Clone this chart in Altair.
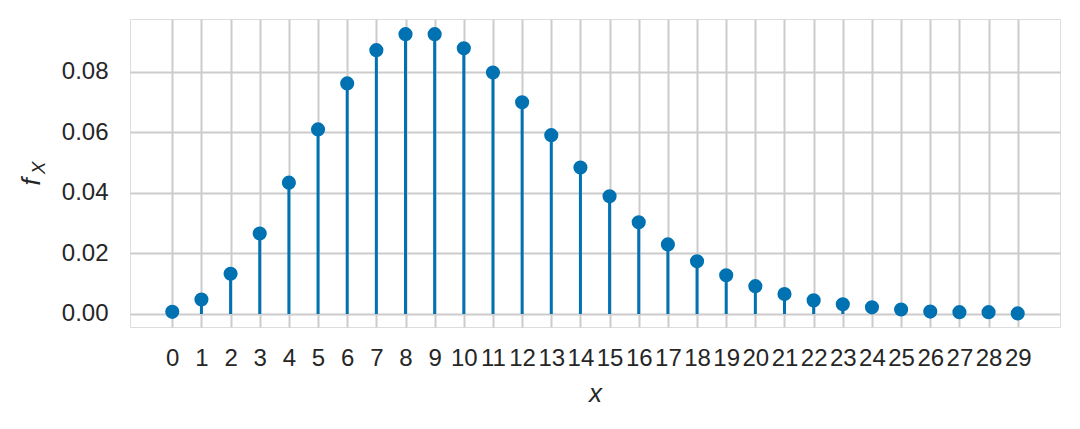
import altair as alt
import pandas as pd

xs = list(range(30))
pmf = [0.0007, 0.0048, 0.0133, 0.0266, 0.0434, 0.0610, 0.0762, 0.0872, 0.0925, 0.0925,
       0.0878, 0.0798, 0.0700, 0.0591, 0.0484, 0.0389, 0.0303, 0.0230, 0.0174, 0.0128,
       0.0092, 0.0066, 0.0045, 0.0032, 0.0022, 0.0015, 0.0008, 0.0006, 0.0006, 0.0002]
y_ticks = [0.0, 0.02, 0.04, 0.06, 0.08]

df = pd.DataFrame({"x": xs, "p": pmf})

BLUE = "#0072B2"
GRID = "#cccccc"
TXT = "#262626"
FONT = "Liberation Sans"

xscale = alt.Scale(domain=[-1.45, 30.45], nice=False, zero=False)
yscale = alt.Scale(domain=[-0.0043, 0.0975], nice=False, zero=False)

xaxis = alt.Axis(values=xs, tickCount=30, grid=True, gridColor=GRID, gridWidth=2, domain=False,
                 ticks=False, labelFont=FONT, labelFontSize=24, labelColor=TXT, labelPadding=19,
                 labelFlush=False, labelOverlap=False, title="x", titleFont=FONT,
                 titleFontSize=26, titleFontStyle="italic", titleFontWeight="normal",
                 titleColor=TXT, titlePadding=10)
yaxis = alt.Axis(values=y_ticks, format=".2f", grid=True, gridColor=GRID, gridWidth=2,
                 domain=False, ticks=False, labelFont=FONT, labelFontSize=24, labelColor=TXT,
                 labelPadding=22, title=None)

base = alt.Chart(df)
stems = base.mark_rule(color=BLUE, strokeWidth=3).encode(
    x=alt.X("x:Q", scale=xscale, axis=xaxis),
    y=alt.Y("p:Q", scale=yscale, axis=yaxis),
    y2=alt.Y2(datum=0),
)
dots = base.mark_circle(color=BLUE, opacity=1, size=200).encode(
    x=alt.X("x:Q", scale=xscale, axis=xaxis),
    y=alt.Y("p:Q", scale=yscale, axis=yaxis),
)

lab_f = alt.Chart(pd.DataFrame({"t": ["f"]})).mark_text(
    font=FONT, fontSize=26, fontStyle="italic", color=TXT, angle=270, align="center",
    baseline="alphabetic").encode(text="t:N", x=alt.value(-90), y=alt.value(163))
lab_X = alt.Chart(pd.DataFrame({"t": ["X"]})).mark_text(
    font=FONT, fontSize=19, fontStyle="italic", color=TXT, angle=270, align="center",
    baseline="alphabetic").encode(text="t:N", x=alt.value(-85), y=alt.value(149))

chart = alt.layer(stems, dots, lab_f, lab_X).properties(
    width=930, height=308,
    autosize=alt.AutoSizeParams(type="none"),
    padding={"left": 122, "top": 11, "right": 12, "bottom": 90},
).configure_view(stroke=GRID, strokeWidth=2.5).configure(background="white")

chart.save("out.html", embed_options={"renderer": "svg", "actions": False})
